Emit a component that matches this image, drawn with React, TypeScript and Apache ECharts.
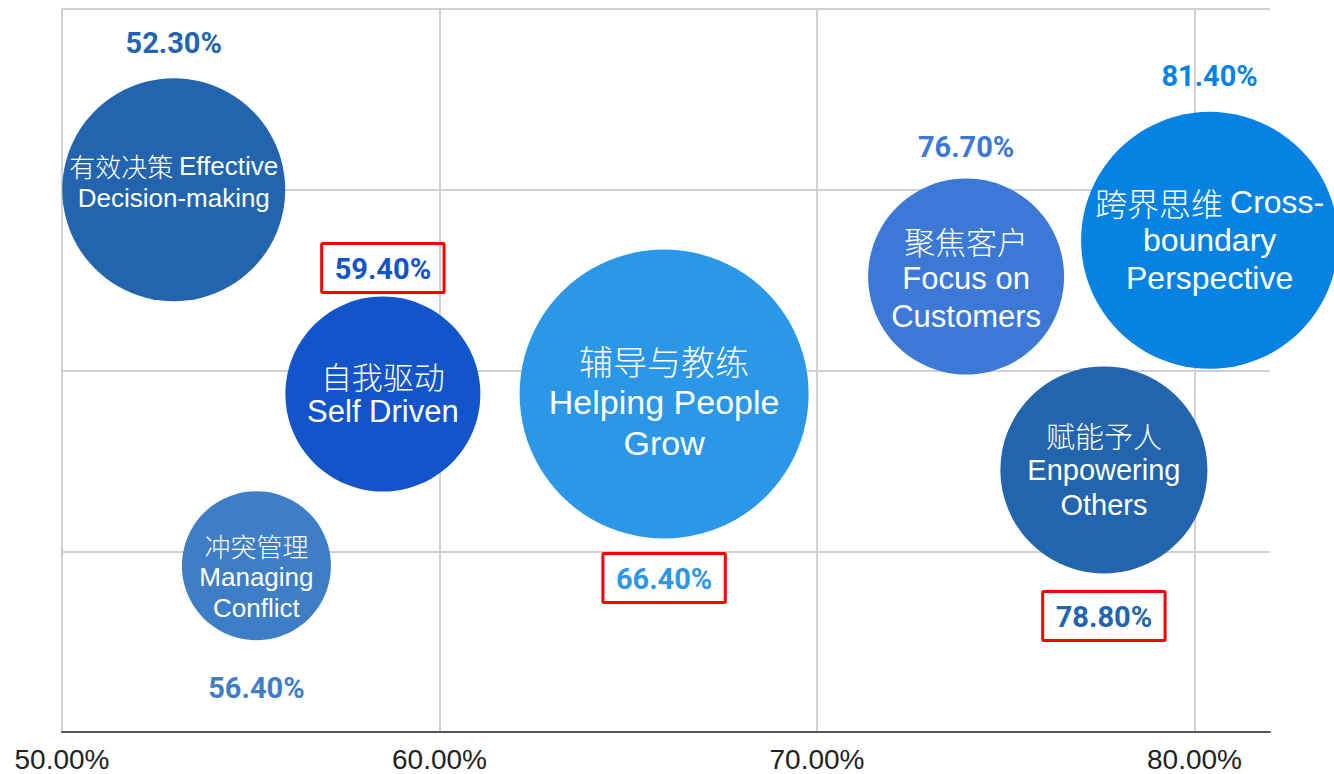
import React, { useEffect, useRef } from "react";
import * as echarts from "echarts";

// Competency names (Chinese + English)
const cnNames = ["有效决策", "自我驱动", "辅导与教练", "聚焦客户", "跨界思维", "赋能予人", "冲突管理"];
const enNames = [
  "Effective\nDecision-making",
  "Self Driven",
  "Helping People\nGrow",
  "Focus on\nCustomers",
  "Cross-\nboundary\nPerspective",
  "Enpowering\nOthers",
  "Managing\nConflict",
];
// x position (percent), y position (arbitrary scale 0-4), bubble size
const xValues = [52.96, 58.5, 65.95, 73.95, 80.4, 77.6, 55.15];
const yValues = [3.0, 1.87, 1.87, 2.52, 2.72, 1.45, 0.92];
const sizes = [223, 195, 289, 196, 257, 207, 149];
// score labels
const scores = ["52.30%", "59.40%", "66.40%", "76.70%", "81.40%", "78.80%", "56.40%"];
const highlighted = [false, true, true, false, false, true, false];

const xTicks = [50, 60, 70, 80];

// styling (kept apart from the data)
const colors = ["#2364AE", "#1254CA", "#2B97E8", "#3C79D7", "#0683E2", "#2364AE", "#3E7EC7"];
const scoreBelow = [false, false, true, false, false, true, true];
const scoreDistance = [21, 4, 15, 17, 21, 18, 33];
const nameFont = [26, 31, 34, 31, 32, 29, 26];
const nameLine = [32, 36, 41, 38, 38, 35, 31];
const nameShift = [-8, 0, 8, 2, 0, 0, 11];

export default function App() {
  const ref = useRef<HTMLDivElement>(null);
  useEffect(() => {
    if (!ref.current) return;
    const chart = echarts.init(ref.current, null, { renderer: "svg" });
    const bubbleData = xValues.map((x, i) => {
      const en = enNames[i];
      const enLines = en.split("\n").map((l) => "{en|" + l + "}");
      let text: string;
      if (i === 0 || i === 4) {
        text = ["{cn|" + cnNames[i] + " }" + enLines[0], ...enLines.slice(1)].join("\n");
      } else {
        text = ["{cn|" + cnNames[i] + "}", ...enLines].join("\n");
      }
      const fs = nameFont[i];
      const lh = nameLine[i];
      return {
        value: [x, yValues[i], sizes[i]],
        itemStyle: { color: colors[i], opacity: 1 },
        label: {
          show: true,
          position: "inside",
          formatter: text,
          color: "#ffffff",
          fontSize: fs,
          lineHeight: lh,
          offset: [0, nameShift[i]],
          rich: {
            cn: {
              color: "#ffffff",
              fontSize: fs,
              lineHeight: lh,
              fontWeight: 300,
              fontFamily: "'Noto Sans CJK SC', sans-serif",
            },
            en: {
              color: "#ffffff",
              fontSize: fs,
              lineHeight: lh,
              fontFamily: "'Liberation Sans', Arial, sans-serif",
            },
          },
        },
      };
    });
    const scoreData = xValues.map((x, i) => ({
      value: [x, yValues[i], sizes[i]],
      label: {
        show: true,
        position: scoreBelow[i] ? "bottom" : "top",
        distance: scoreDistance[i],
        formatter: scores[i],
        color: colors[i],
        fontSize: 29,
        fontWeight: "bold",
        fontFamily: "Roboto, 'Liberation Sans', sans-serif",
        ...(highlighted[i]
          ? { borderColor: "#ff0000", borderWidth: 3, padding: [11, 13, 9, 13], borderRadius: 1 }
          : {}),
      },
    }));
    chart.setOption({
      animation: false,
      backgroundColor: "#ffffff",
      grid: { left: 62, right: 64, top: 9, bottom: 42, containLabel: false },
      xAxis: {
        type: "value",
        min: 50,
        max: 82,
        interval: 10,
        axisLine: { show: true, lineStyle: { color: "#555555", width: 2 } },
        axisTick: { show: false },
        axisLabel: {
          color: "#222222",
          fontSize: 28,
          margin: 13,
          fontFamily: "'Liberation Sans', Arial, sans-serif",
          formatter: (v: number) => (xTicks.includes(v) ? v.toFixed(2) + "%" : ""),
        },
        splitLine: {
          show: true,
          lineStyle: { color: ["#d0d0d0", "#d0d0d0", "#d0d0d0", "#d0d0d0", "rgba(0,0,0,0)"], width: 2 },
        },
      },
      yAxis: {
        type: "value",
        min: 0,
        max: 4,
        interval: 1,
        axisLine: { show: false },
        axisTick: { show: false },
        axisLabel: { show: false },
        splitLine: { show: true, lineStyle: { color: "#d0d0d0", width: 2 } },
      },
      series: [
        {
          type: "scatter",
          data: bubbleData,
          symbolSize: (v: number[]) => v[2],
          itemStyle: { opacity: 1 },
          z: 3,
        },
        {
          type: "scatter",
          data: scoreData,
          symbolSize: (v: number[]) => v[2],
          itemStyle: { color: "rgba(0,0,0,0)", opacity: 1 },
          emphasis: { disabled: true },
          silent: true,
          z: 4,
        },
      ],
    });
    return () => chart.dispose();
  }, []);
  return <div ref={ref} style={{ width: 1334, height: 774, position: "absolute", left: 0, top: 0 }} />;
}
